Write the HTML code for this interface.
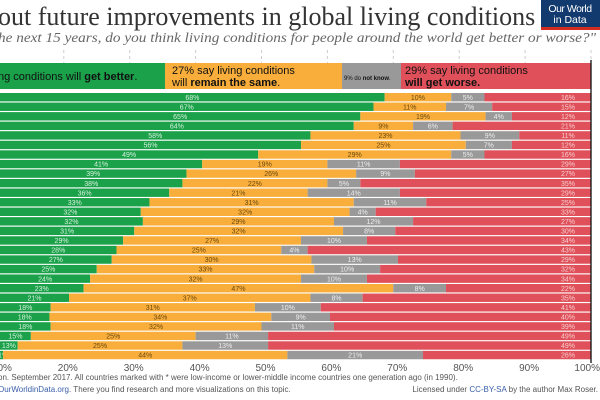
<!DOCTYPE html>
<html><head><meta charset="utf-8">
<style>
body{margin:0;width:600px;height:400px;overflow:hidden;background:#fff;font-family:"Liberation Sans",sans-serif}
svg{display:block}
</style></head>
<body>
<svg id="c" width="600" height="400">
<text x="-2" y="25" font-family="Liberation Serif,serif" font-size="26" fill="#333">out future improvements in global living conditions</text>
<text x="-2" y="42" font-family="Liberation Serif,serif" font-style="italic" font-size="13.5" fill="#666" textLength="598" lengthAdjust="spacingAndGlyphs">he next 15 years, do you think living conditions for people around the world get better or worse?"</text>
<g>
<rect x="541" y="0" width="59" height="30" fill="#123a6e"/>
<rect x="541" y="27" width="59" height="3" fill="#d42b21"/>
<text x="570" y="12" text-anchor="middle" font-size="10.5" fill="#fff" letter-spacing="-0.5">Our World</text>
<text x="570" y="23" text-anchor="middle" font-size="10.5" fill="#fff">in Data</text>
</g>
<g id="grid"></g>
<g>
<rect x="0" y="63" width="165" height="26" fill="#1aa14a"/>
<rect x="165" y="63" width="177" height="26" fill="#f9ae3b"/>
<rect x="342" y="63" width="59" height="26" fill="#999"/>
<rect x="401" y="63" width="190" height="26" fill="#e0505a"/>
<text x="-2" y="80" font-size="11" fill="#111">ng conditions will <tspan font-weight="bold">get better</tspan>.</text>
<text x="172" y="74" font-size="11" fill="#111">27% say living conditions</text>
<text x="172" y="86" font-size="11" fill="#111">will <tspan font-weight="bold">remain the same</tspan>.</text>
<text x="344" y="80" font-size="6" fill="#111">9% do <tspan font-weight="bold">not know</tspan>.</text>
<text x="405" y="74" font-size="11" fill="#111">29% say living conditions</text>
<text x="405" y="86" font-size="11" fill="#111" font-weight="bold">will get worse.</text>
</g>
<g id="bars"></g>
<line x1="591" y1="60" x2="591" y2="363" stroke="#111" stroke-width="1.3"/>
<g id="xaxis"></g>
<text x="-2" y="380" font-size="8" fill="#555">on. September 2017. All countries marked with * were low-income or lower-middle income countries one generation ago (in 1990).</text>
<text x="-2" y="392" font-size="8" fill="#555"><tspan fill="#3a5fa8">OurWorldinData.org</tspan>. There you find research and more visualizations on this topic.</text>
<text x="598" y="392" text-anchor="end" font-size="8" fill="#555">Licensed under <tspan fill="#3a5fa8">CC-BY-SA</tspan> by the author Max Roser.</text>
</svg>
<script>
const better=[68,67,65,64,58,56,49,41,39,38,36,33,32,32,31,29,28,27,25,24,23,21,18,18,18,15,13,11];
const same=[10,11,19,9,23,25,29,19,26,22,21,31,32,29,32,27,25,30,33,32,47,37,31,34,32,25,25,44];
const dontknow=[5,7,4,6,9,7,5,11,9,5,14,11,4,12,8,10,4,13,10,10,8,8,10,9,11,11,13,21];
const worse=[16,15,12,21,11,12,16,29,27,35,29,25,33,27,30,34,43,29,32,34,22,35,41,40,39,49,49,26];
const ticks=[10,20,30,40,50,60,70,80,90,100];
const NS="http://www.w3.org/2000/svg";
const X0=-68,XW=659,Y0=93,PITCH=9.55,BH=8.4;
const x=v=>X0+v/100*XW;
const yb=i=>Y0+i*PITCH;
function mk(t,a,p){const e=document.createElementNS(NS,t);for(const k in a)e.setAttribute(k,a[k]);p.appendChild(e);return e;}
const grid=document.getElementById('grid');
ticks.forEach(t=>{
  const g=mk('line',{x1:x(t),x2:x(t),y1:50,y2:63,stroke:'#ccc','stroke-dasharray':'3,3'},grid);
  
  
});
const bars=document.getElementById('bars');
const cols=['#1aa14a','#f9ae3b','#999','#e0505a'];
const tcol=['#d8f0dc','#6b4a10','#eee','#f6d0d0'];
better.forEach((b,i)=>{
  const vals=[b,same[i],dontknow[i],worse[i]];
  const tot=vals.reduce((a,c)=>a+c,0);
  let acc=0;
  const names=['better','same','dont-know','worse'];
  vals.forEach((v,k)=>{
    const s=acc/tot*100, e=(acc+v)/tot*100; acc+=v;
    const x1=x(s), x2=k==3?x(100):x(e);
    const r=mk('rect',{x:x1,y:yb(i),width:Math.max(0,x2-x1),height:BH,fill:cols[k]},bars);
    
    
    let cx=k==3?568:(Math.max(x1,0)+x2)/2;
    const t=mk('text',{x:cx,y:yb(i)+6.8,'text-anchor':'middle','font-size':7,fill:tcol[k]},bars);
    t.textContent=v+'%';
    
    
  });
});
const xa=document.getElementById('xaxis');
ticks.forEach(t=>{
  const l=mk('text',{x:t==100?600:x(t)+4,y:371,'text-anchor':t==100?'end':'middle','font-size':10,fill:'#555'},xa);
  l.textContent=t+'%';
  
  
});
</script>
</body></html>
